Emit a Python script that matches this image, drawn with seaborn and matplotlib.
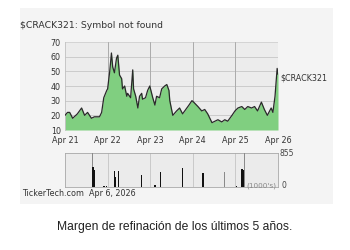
import matplotlib
matplotlib.use("Agg")
import matplotlib.pyplot as plt
import seaborn as sns
import pandas as pd
from matplotlib.patches import Rectangle

# ---- data ----
t_years = [0.00, 0.06, 0.11, 0.18, 0.29, 0.39, 0.46, 0.53, 0.62, 0.69, 0.81, 0.86,
           0.91, 0.98, 1.00, 1.05, 1.09, 1.12, 1.16, 1.21, 1.24, 1.28, 1.33, 1.35,
           1.40, 1.45, 1.47, 1.54, 1.59, 1.61, 1.66, 1.71, 1.75, 1.80, 1.82, 1.89,
           1.94, 1.99, 2.06, 2.11, 2.15, 2.22, 2.27, 2.34, 2.39, 2.44, 2.46, 2.53,
           2.62, 2.69, 2.76, 2.86, 2.91, 2.98, 3.02, 3.12, 3.21, 3.28, 3.35, 3.45,
           3.52, 3.59, 3.68, 3.75, 3.82, 3.92, 3.99, 4.06, 4.15, 4.22, 4.29, 4.38,
           4.45, 4.52, 4.61, 4.68, 4.75, 4.84, 4.88, 4.93, 4.98, 5.00]
crack = [20, 22, 22, 18, 21, 25, 20, 22, 18, 19, 19, 22,
         32, 37, 38, 50, 62.5, 53, 49, 59, 61, 47.5, 45, 38,
         40, 33, 35, 32, 51, 38, 33, 25, 33, 35, 31, 32,
         37, 40, 32, 27, 33, 32, 38, 40, 41, 37, 30, 20,
         23, 25, 21, 25, 27, 30, 29, 26, 23, 24, 21, 15,
         16, 17, 15.5, 17, 16, 20, 23, 25, 26, 24, 26, 25,
         26, 23, 29, 24, 20, 25, 22, 33, 52, 48]

vol_t = [0.64, 0.66, 0.69, 0.92, 0.98, 1.16, 1.18, 1.26, 1.79, 2.11, 2.24, 2.76,
         3.24, 3.75, 4.03, 4.15, 4.18, 4.21]
vol_k = [855, 500, 440, 20, 20, 400, 250, 400, 310, 50, 370, 490,
         345, 370, 30, 465, 430, 855]
vol_kind = ["gray", "black", "black", "black", "black", "black", "black", "black",
            "black", "black", "black", "black", "black", "gray", "black", "black",
            "black", "gray"]

x_ticks = [0, 1, 2, 3, 4, 5]
x_labels = ["Apr 21", "Apr 22", "Apr 23", "Apr 24", "Apr 25", "Apr 26"]
y_ticks = [10, 20, 30, 40, 50, 60, 70]

df = pd.DataFrame({"t": t_years, "v": crack})

sns.set_theme(style="white")
plt.rcParams["font.family"] = ["DejaVu Sans"]

fig = plt.figure(figsize=(3.5, 2.5), dpi=100)
fig.patch.set_facecolor("white")
fig.add_artist(Rectangle((20/350, 1-204/250), 313/350, 196/250,
                         transform=fig.transFigure, facecolor="#f4f4f4",
                         edgecolor="none", zorder=0))

ax = fig.add_axes([65/350, 1-130/250, 213/350, 88/250])
ax.set_facecolor("#ececec")
ax.fill_between(df["t"], df["v"], 10, color="#80cf80", linewidth=0, zorder=2)
sns.lineplot(data=df, x="t", y="v", ax=ax, color="#2a2a2a", linewidth=0.9, zorder=3)
ax.set_xlim(0, 5)
ax.set_ylim(10, 70)
ax.set_xticks(x_ticks)
ax.set_xticklabels(x_labels)
ax.set_yticks(y_ticks)
ax.set_xlabel("")
ax.set_ylabel("")
for y in y_ticks[1:-1]:
    ax.axhline(y, color="#c6c6c6", linewidth=0.6, zorder=1)
ax.axhline(70, color="#d0d0d0", linewidth=0.6, zorder=1)
for x in x_ticks[1:-1]:
    ax.axvline(x, color="#aaaaaa", linewidth=0.7, zorder=1)
ax.axvline(5, color="#aaaaaa", linewidth=0.7, zorder=1)
for s in ax.spines.values():
    s.set_visible(False)
ax.spines["left"].set_visible(True)
ax.spines["left"].set_color("#c0c0c0")
ax.spines["left"].set_linewidth(0.6)
ax.tick_params(axis="both", length=0, labelsize=5.8, labelcolor="#333333", pad=3)
ax.tick_params(axis="x", pad=4)
ax.text(5.05, 45.5, "\\$CRACK321", fontsize=5.8, color="#333333",
        va="center", ha="left", clip_on=False)

vx = fig.add_axes([65/350, 1-187/250, 213/350, 34/250])
vx.set_facecolor("#ebebeb")
colors = {"black": "#111111", "gray": "#8a8a8a"}
for t, k, kind in zip(vol_t, vol_k, vol_kind):
    vx.bar(t, k, width=0.035 if kind == "black" else 0.02,
           color=colors[kind], linewidth=0, zorder=3)
vx.set_xlim(0, 5)
vx.set_ylim(0, 855)
vx.set_xticks([])
vx.set_yticks([])
for x in x_ticks[1:-1]:
    vx.axvline(x, color="#c4c4c4", linewidth=0.6, zorder=1)
for s in vx.spines.values():
    s.set_color("#a8a8a8")
    s.set_linewidth(0.6)
vx.text(5.03, 855, "855", fontsize=5.5, color="#444444", va="center", ha="left", clip_on=False)
vx.text(5.08, 40, "0", fontsize=5.5, color="#444444", va="center", ha="left", clip_on=False)
vx.text(4.96, 40, "(1000's)", fontsize=5.2, color="#888888", va="center", ha="right", clip_on=False)

fig.text(20/350, 1-25/250, "\\$CRACK321: Symbol not found", fontsize=6.7, color="#333333",
         ha="left", va="center")
fig.text(22/350, 1-193/250, "TickerTech.com  Apr 6, 2026", fontsize=5.8, color="#333333",
         ha="left", va="center")
fig.text(175/350, 1-227/250, "Margen de refinación de los últimos 5 años.",
         fontsize=8.7, color="#222222", ha="center", va="center",
         family=["Liberation Sans", "DejaVu Sans"])

fig.savefig("out.png", dpi=100)
